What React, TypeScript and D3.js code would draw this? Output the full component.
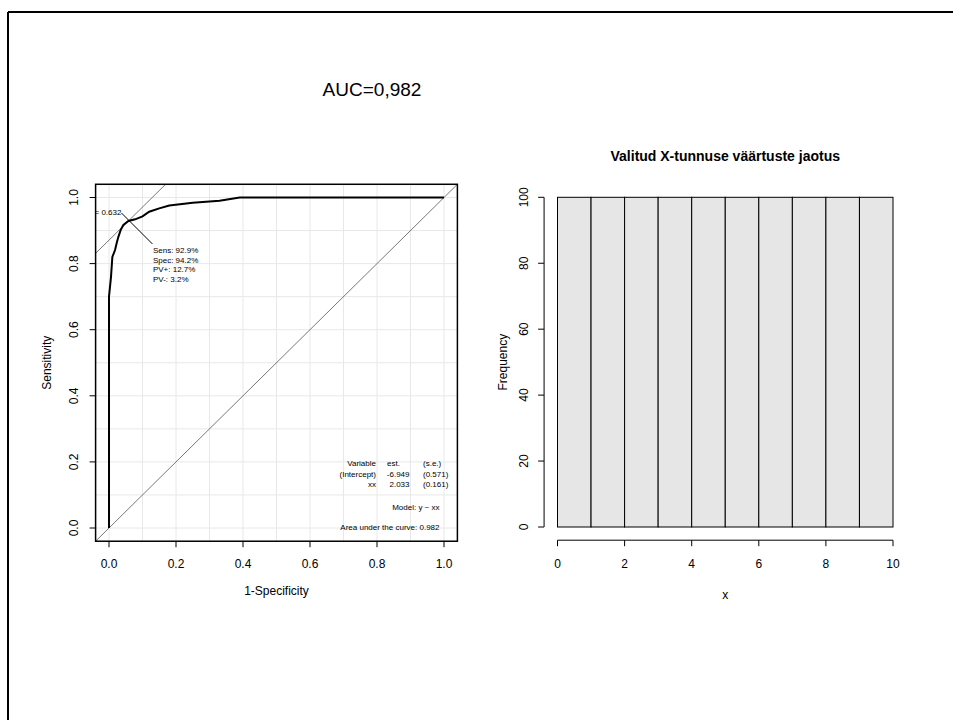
import React from "react";
import * as d3 from "d3";

// ROC curve (1-specificity, sensitivity)
const rocFpr = [0, 0, 0.006, 0.01, 0.018, 0.023, 0.028, 0.035, 0.043, 0.058, 0.078, 0.1, 0.12, 0.15, 0.18, 0.25, 0.33, 0.39, 1.0];
const rocTpr = [0, 0.7, 0.76, 0.82, 0.841, 0.862, 0.881, 0.902, 0.917, 0.929, 0.934, 0.943, 0.957, 0.967, 0.976, 0.984, 0.99, 1.0, 1.0];

// optimal cut point and its texts
const optFpr = 0.058;
const optTpr = 0.929;
const optLabel = "lr.eta = 0.632";
const optStats = ["Sens: 92.9%", "Spec: 94.2%", "PV+: 12.7%", "PV-: 3.2%"];

// model table
const tableRows = [
  ["Variable", "est.", "(s.e.)"],
  ["(Intercept)", "-6.949", "(0.571)"],
  ["xx", "2.033", "(0.161)"],
];
const modelText = "Model:  y ~ xx";
const aucText = "Area under the curve: 0.982";
const mainTitle = "AUC=0,982";

const rocTicks = [0, 0.2, 0.4, 0.6, 0.8, 1.0];

// histogram
const histBreaks = [0, 1, 2, 3, 4, 5, 6, 7, 8, 9, 10];
const histCounts = [100, 100, 100, 100, 100, 100, 100, 100, 100, 100];
const histXTicks = [0, 2, 4, 6, 8, 10];
const histYTicks = [0, 20, 40, 60, 80, 100];
const histTitle = "Valitud X-tunnuse väärtuste jaotus";

const font = "'Liberation Sans', Arial, Helvetica, sans-serif";

export default function App() {
  const width = 953;
  const height = 720;

  // left panel scales
  const x = d3.scaleLinear().domain([0, 1]).range([109, 444]);
  const y = d3.scaleLinear().domain([0, 1]).range([528, 197.5]);
  const bx0 = x(-0.04), bx1 = x(1.04), by0 = y(-0.04), by1 = y(1.04);

  // right panel scales
  const hx = d3.scaleLinear().domain([0, 10]).range([557.5, 893]);
  const hy = d3.scaleLinear().domain([0, 100]).range([527, 197.3]);
  const hAxisX = hx(-0.4);
  const hAxisY = hy(-4);

  const line = d3.line<number>()
    .x((_, i) => x(rocFpr[i]))
    .y((_, i) => y(rocTpr[i]));

  const grid = d3.range(0, 11).map(d => d / 10);

  // abline helpers (clipped to the box)
  const abline = (a: number, b: number) => {
    const xs = [-0.04, 1.04];
    return xs.map(v => [x(v), y(a + b * v)]);
  };
  const diag = abline(0, 1);
  const tang = abline(optTpr - optFpr, 1);

  const px = x(optFpr), py = y(optTpr);

  return (
    <svg width={width} height={height} style={{ position: "absolute", left: 0, top: 0, background: "#fff" }} fontFamily={font}>
      <defs>
        <clipPath id="rocclip">
          <rect x={bx0} y={by1} width={bx1 - bx0} height={by0 - by1} />
        </clipPath>
      </defs>

      {/* page frame */}
      <line x1={8} y1={12} x2={width} y2={12} stroke="#000" strokeWidth={2} />
      <line x1={8} y1={12} x2={8} y2={height} stroke="#000" strokeWidth={2} />

      <text x={372} y={96} fontSize={19} textAnchor="middle">{mainTitle}</text>

      {/* ROC panel */}
      <g clipPath="url(#rocclip)">
        {grid.map(g => (
          <line key={"gx" + g} x1={x(g)} x2={x(g)} y1={by0} y2={by1} stroke="#e8e8e8" strokeWidth={1} />
        ))}
        {grid.map(g => (
          <line key={"gy" + g} y1={y(g)} y2={y(g)} x1={bx0} x2={bx1} stroke="#e8e8e8" strokeWidth={1} />
        ))}
        <line x1={diag[0][0]} y1={diag[0][1]} x2={diag[1][0]} y2={diag[1][1]} stroke="#555" strokeWidth={0.8} />
        <line x1={tang[0][0]} y1={tang[0][1]} x2={tang[1][0]} y2={tang[1][1]} stroke="#555" strokeWidth={0.8} />
        <path d={line(rocFpr) || ""} fill="none" stroke="#000" strokeWidth={2} />
        <line x1={px - 7} y1={py - 8} x2={px + 24} y2={py + 23} stroke="#000" strokeWidth={1} />
        <text x={px - 7} y={py - 6} fontSize={8} textAnchor="end">{optLabel}</text>
      </g>
      {optStats.map((s, i) => (
        <text key={s} x={px + 24.5} y={py + 32 + i * 9.7} fontSize={8}>{s}</text>
      ))}

      {tableRows.map((r, i) => (
        <g key={"tr" + i} fontSize={8}>
          <text x={376} y={466 + i * 10.5} textAnchor="end">{r[0]}</text>
          <text x={i === 0 ? 400 : 409.5} y={466 + i * 10.5} textAnchor="end">{r[1]}</text>
          <text x={423} y={466 + i * 10.5}>{r[2]}</text>
        </g>
      ))}
      <text x={439.5} y={510} fontSize={8} textAnchor="end">{modelText}</text>
      <text x={439.5} y={529.5} fontSize={8} textAnchor="end">{aucText}</text>

      <rect x={bx0} y={by1} width={bx1 - bx0} height={by0 - by1} fill="none" stroke="#000" strokeWidth={1.5} />

      {rocTicks.map(t => (
        <g key={"xt" + t}>
          <line x1={x(t)} x2={x(t)} y1={by0} y2={by0 + 6} stroke="#000" />
          <text x={x(t)} y={567.5} fontSize={12} textAnchor="middle">{t.toFixed(1)}</text>
        </g>
      ))}
      {rocTicks.map(t => (
        <g key={"yt" + t}>
          <line x1={bx0} x2={bx0 - 6} y1={y(t)} y2={y(t)} stroke="#000" />
          <text transform={`translate(77.5,${y(t)}) rotate(-90)`} fontSize={12} textAnchor="middle">{t.toFixed(1)}</text>
        </g>
      ))}
      <text x={x(0.5)} y={595} fontSize={12} textAnchor="middle">1-Specificity</text>
      <text transform={`translate(51,${y(0.5)}) rotate(-90)`} fontSize={12} textAnchor="middle">Sensitivity</text>

      {/* histogram panel */}
      <text x={hx(5)} y={161} fontSize={14} fontWeight="bold" textAnchor="middle">{histTitle}</text>
      {histCounts.map((c, i) => (
        <rect key={"b" + i} x={hx(histBreaks[i])} y={hy(c)} width={hx(histBreaks[i + 1]) - hx(histBreaks[i])} height={hy(0) - hy(c)}
          fill="#e6e6e6" stroke="#000" strokeWidth={1} />
      ))}
      <line x1={hx(0)} x2={hx(10)} y1={hAxisY} y2={hAxisY} stroke="#000" />
      {histXTicks.map(t => (
        <g key={"hx" + t}>
          <line x1={hx(t)} x2={hx(t)} y1={hAxisY} y2={hAxisY + 6} stroke="#000" />
          <text x={hx(t)} y={567.5} fontSize={12} textAnchor="middle">{t}</text>
        </g>
      ))}
      <line x1={hAxisX} x2={hAxisX} y1={hy(0)} y2={hy(100)} stroke="#000" />
      {histYTicks.map(t => (
        <g key={"hy" + t}>
          <line x1={hAxisX} x2={hAxisX - 6} y1={hy(t)} y2={hy(t)} stroke="#000" />
          <text transform={`translate(527.5,${hy(t)}) rotate(-90)`} fontSize={12} textAnchor="middle">{t}</text>
        </g>
      ))}
      <text x={hx(5)} y={599} fontSize={12} textAnchor="middle">x</text>
      <text transform={`translate(507,${hy(50)}) rotate(-90)`} fontSize={12} textAnchor="middle">Frequency</text>
    </svg>
  );
}
